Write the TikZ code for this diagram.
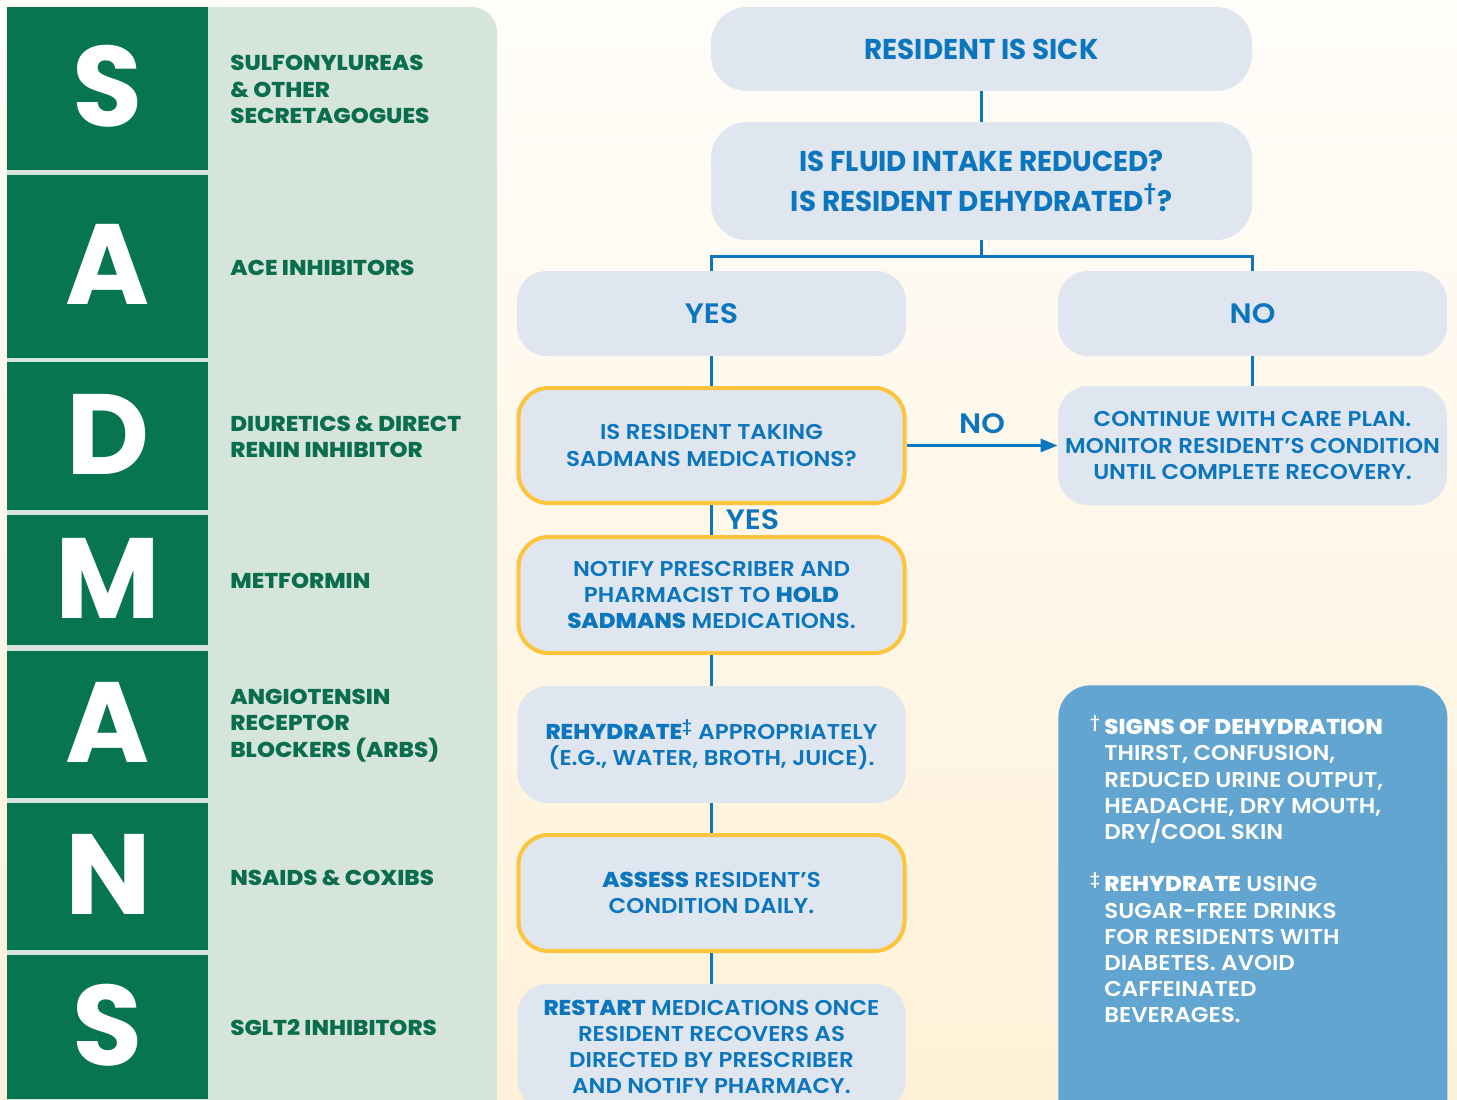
\documentclass[tikz,border=0pt]{standalone}
\usepackage{fontspec}
\setmainfont{Poppins}[UprightFont=* SemiBold, BoldFont=* ExtraBold, FakeStretch=1.07]
\newfontfamily\condfont{Poppins}[UprightFont=* Bold, FakeStretch=0.97]
\newfontfamily\letterfont{Poppins}[UprightFont=* Bold]
\usepackage{xcolor}
\usetikzlibrary{positioning,arrows.meta}

\definecolor{sadgreen}{HTML}{077550}
\definecolor{labgreen}{HTML}{0A6E4C}
\definecolor{panelgreen}{HTML}{D6E5DC}
\definecolor{boxfill}{HTML}{DFE6F0}
\definecolor{flowblue}{HTML}{0B76BD}
\definecolor{holdyellow}{HTML}{FDC43C}
\definecolor{notesblue}{HTML}{61A5D0}
\definecolor{bgtop}{HTML}{FFFDFA}
\definecolor{bgbot}{HTML}{FEF1D7}

\newlength\px
\setlength\px{0.02cm}

\tikzset{
  flowtext/.style={font=\fontsize{12.2}{14.9}\selectfont},
  flowbox/.style={rounded corners=30\px, fill=boxfill, text=flowblue, align=center,
    minimum width=388\px, inner sep=0pt, flowtext},
  holdbox/.style={flowbox, draw=holdyellow, line width=4\px, minimum width=386\px},
  topbox/.style={flowbox, rounded corners=36\px, minimum width=541\px,
    font=\condfont\fontsize{16.3}{22.2}\selectfont},
  answer/.style={flowbox, minimum width=389\px, minimum height=85\px,
    font=\fontsize{16}{18}\selectfont},
  link/.style={draw=flowblue, line width=2.6\px},
  linklabel/.style={text=flowblue, font=\fontsize{16}{18}\selectfont, inner sep=0pt},
  letterbox/.style={fill=sadgreen},
  bigletter/.style={text=white, inner sep=0pt, font=\letterfont\fontsize{65}{65}\selectfont},
  druglabel/.style={text=labgreen, align=left, anchor=west, inner sep=0pt,
    font=\bfseries\fontsize{12.2}{15.1}\selectfont},
  notetext/.style={text=white, align=left, anchor=north west, inner sep=0pt, flowtext},
}

\begin{document}
\begin{tikzpicture}[x=1\px, y=-1\px]
\useasboundingbox (0,0) rectangle (1457,1099);
\clip (0,0) rectangle (1457,1099);
\shade[top color=bgtop, bottom color=bgbot] (0,0) rectangle (1457,1099);

% SADMANS column
\fill[panelgreen, rounded corners=25\px] (7,7) rectangle (497,1140);
\foreach \ya/\yb/\ch/\lab [count=\i] in {
  7/170/S/{SULFONYLUREAS\\\& OTHER\\SECRETAGOGUES},
  175/358/A/{ACE INHIBITORS},
  362/510/D/{DIURETICS \& DIRECT\\RENIN INHIBITOR},
  515/645/M/{METFORMIN},
  651/798/A/{ANGIOTENSIN\\RECEPTOR\\BLOCKERS (ARBS)},
  803/950/N/{NSAIDS \& COXIBS},
  955/1099/S/{SGLT2 INHIBITORS}}{
  \fill[letterbox] (7,\ya) rectangle (208,\yb);
  \node[bigletter] (letter\i) at (108,{(\ya+\yb)/2-2}) {\ch};
  \node[druglabel] (drug\i) at (230,{(\ya+\yb)/2+1}) {\lab};
}

% flow chart
\node[topbox, minimum height=84\px] (sick) at (981.5,49) {RESIDENT IS SICK};
\node[topbox, minimum height=118\px] (fluid) at (981.5,181)
  {\rule{0pt}{6\px}IS FLUID INTAKE REDUCED?\\IS RESIDENT DEHYDRATED\textsuperscript{\textdagger}?};
\node[answer] (yes) at (711.5,313.5) {YES};
\node[answer] (no) at (1252.5,313.5) {NO};

\node[holdbox, minimum height=115\px] (taking) at (711.5,445.5)
  {IS RESIDENT TAKING\\SADMANS MEDICATIONS?};
\node[flowbox, minimum width=389\px, minimum height=119\px] (cont) at (1252.5,445.5)
  {CONTINUE WITH CARE PLAN.\\MONITOR RESIDENT’S CONDITION\\UNTIL COMPLETE RECOVERY.};
\node[holdbox, minimum height=116\px] (notify) at (711.5,595)
  {NOTIFY PRESCRIBER AND\\PHARMACIST TO \textbf{HOLD}\\\textbf{SADMANS} MEDICATIONS.};
\node[flowbox, minimum height=117\px] (rehyd) at (711.5,744.5)
  {\textbf{REHYDRATE}\textsuperscript{\textdaggerdbl} APPROPRIATELY\\(E.G., WATER, BROTH, JUICE).};
\node[holdbox, minimum height=116\px] (assess) at (711.5,893)
  {\textbf{ASSESS} RESIDENT’S\\CONDITION DAILY.};
\node[flowbox, minimum height=126\px] (restart) at (711.5,1047)
  {\textbf{RESTART} MEDICATIONS ONCE\\RESIDENT RECOVERS AS\\DIRECTED BY PRESCRIBER\\AND NOTIFY PHARMACY.};

\draw[link] (sick) -- (fluid);
\draw[link] (fluid.south) -- ++(0,16) -| (yes.north);
\draw[link] (fluid.south) ++(0,16) -| (no.north);
\draw[link] (yes) -- (taking);
\draw[link] (no) -- (cont);
\draw[link, -{Triangle[length=9.7pt, width=7.4pt]}] (taking.east) --
  node[linklabel, above=11\px] (nolabel) {NO} (cont.west);
\draw[link] (taking) -- node[linklabel, right=13\px] (yeslabel) {YES} (notify);
\draw[link] (notify) -- (rehyd);
\draw[link] (rehyd) -- (assess);
\draw[link] (assess) -- (restart);

% notes
\node[fill=notesblue, rounded corners=32\px, minimum width=389\px, minimum height=450\px,
  anchor=north west, inner sep=0pt] (notes) at (1058,685) {};
\node[notetext] (notetext) at ([xshift=46\px, yshift=-30\px]notes.north west)
  {\llap{\textsuperscript{\textdagger}\,}\textbf{SIGNS OF DEHYDRATION}\\
   THIRST, CONFUSION,\\
   REDUCED URINE OUTPUT,\\
   HEADACHE, DRY MOUTH,\\
   DRY/COOL SKIN\\[\baselineskip]
   \llap{\textsuperscript{\textdaggerdbl}\,}\textbf{REHYDRATE} USING\\
   SUGAR-FREE DRINKS\\
   FOR RESIDENTS WITH\\
   DIABETES. AVOID\\
   CAFFEINATED\\
   BEVERAGES.};
\end{tikzpicture}
\end{document}
